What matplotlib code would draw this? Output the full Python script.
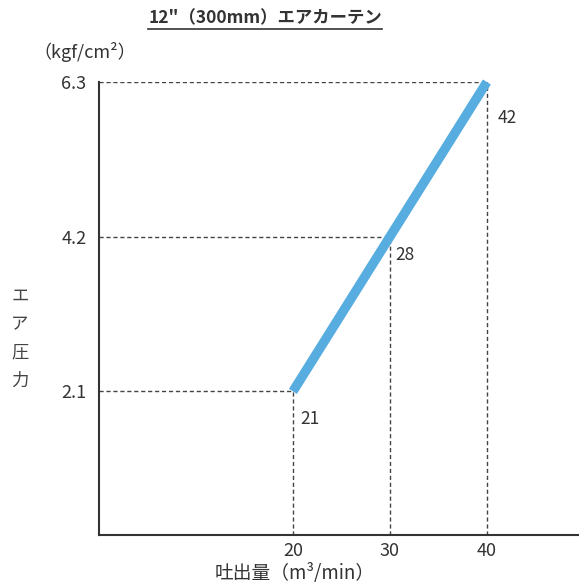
import matplotlib.pyplot as plt
from matplotlib.lines import Line2D

plt.rcParams['font.family'] = ['Noto Sans CJK JP', 'DejaVu Sans']

# chart data
flow_pos = [20, 30, 40]          # x positions (tick values)
pressure = [2.1, 4.2, 6.3]       # kgf/cm2
flow_labels = ['21', '28', '42'] # actual flow rates written beside the points
x_ticks = [20, 30, 40]
y_ticks = [2.1, 4.2, 6.3]

fig = plt.figure(figsize=(5.79, 5.85), dpi=100)
ax = fig.add_axes([99 / 579, 50 / 585, 480 / 579, 453 / 585])
ax.set_xlim(0, 49.5)
ax.set_ylim(0.15, 6.3)

dash_kw = dict(color='#444444', lw=1.0, ls=(0, (3, 2)), zorder=1)
for x, y in zip(flow_pos, pressure):
    ax.plot([0, x], [y, y], **dash_kw)
    ax.plot([x, x], [0.15, y], **dash_kw)

ax.plot(flow_pos, pressure, color='#58ade0', lw=6.8, solid_capstyle='butt',
        zorder=3, clip_on=False)

label_offsets = [(5, -20), (4, -13), (8, -26)]
for x, y, t, off in zip(flow_pos, pressure, flow_labels, label_offsets):
    ax.annotate(t, (x, y), xytext=off, textcoords='offset points',
                fontsize=12.5, color='#333333', ha='left', va='center')

ax.set_xticks(x_ticks)
ax.set_xticklabels([str(v) for v in x_ticks])
ax.set_yticks(y_ticks)
ax.set_yticklabels([str(v) for v in y_ticks])
ax.tick_params(length=0, labelsize=13, colors='#333333')
ax.tick_params(axis='y', pad=9)
ax.tick_params(axis='x', pad=5)

for s in ['top', 'right']:
    ax.spines[s].set_visible(False)
for s in ['left', 'bottom']:
    ax.spines[s].set_color('#333333')
    ax.spines[s].set_linewidth(1.5)

fig.text(85 / 579, 1 - 52 / 585, '（kgf/cm²）', fontsize=13, color='#333333',
         ha='center', va='center')
fig.text(20 / 579, 1 - 338 / 585, 'エ\nア\n圧\n力', fontsize=12.5, color='#444444',
         ha='center', va='center', linespacing=1.75)
fig.text(295 / 579, 1 - 573 / 585, '吐出量（m³/min）', fontsize=13.5, color='#333333',
         ha='center', va='center')

title = fig.text(265 / 579, 1 - 18 / 585, '12"（300mm）エアカーテン', fontsize=12.5,
                 fontweight='bold', color='#333333', ha='center', va='center')

# underline the title
fig.canvas.draw()
bb = title.get_window_extent().transformed(fig.transFigure.inverted())
fig.add_artist(Line2D([bb.x0, bb.x1], [bb.y0 - 0.003, bb.y0 - 0.003],
                      transform=fig.transFigure, color='#333333', lw=1.2))

fig.savefig('out.png', dpi=100)
